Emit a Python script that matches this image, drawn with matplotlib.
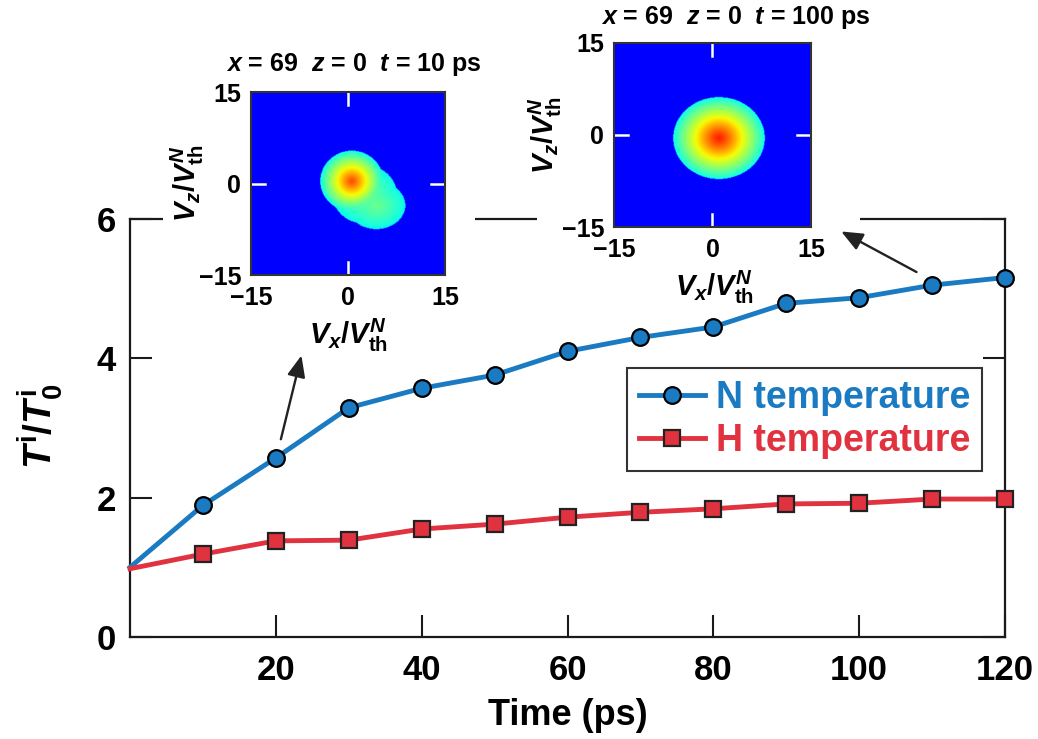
import numpy as np
import matplotlib
matplotlib.use("Agg")
import matplotlib.pyplot as plt
from matplotlib.patches import Rectangle

# ---------------- data ----------------
time_ps = [0, 10, 20, 30, 40, 50, 60, 70, 80, 90, 100, 110, 120]
n_temp = [1.00, 1.89, 2.57, 3.29, 3.57, 3.76, 4.10, 4.30, 4.45, 4.79, 4.87, 5.05, 5.16]
h_temp = [0.98, 1.19, 1.38, 1.39, 1.55, 1.62, 1.72, 1.79, 1.84, 1.91, 1.92, 1.98, 1.98]
x_ticks = [20, 40, 60, 80, 100, 120]
y_ticks = [0, 2, 4, 6]
inset_ticks = [-15, 0, 15]

# blob parameters
# (centre x, centre z, radius x, radius z, peak colour level)
blobs_t10 = [(0.6, 0.4, 4.9, 5.0, 0.83), (2.6, -1.8, 5.0, 4.8, 0.50), (4.4, -3.6, 4.5, 3.9, 0.48)]
blobs_t100 = [(1.0, -0.5, 7.0, 6.7, 0.88)]
titles = [r"$x$ = 69  $z$ = 0  $t$ = 10 ps", r"$x$ = 69  $z$ = 0  $t$ = 100 ps"]

# ---------------- style ----------------
plt.rcParams["font.family"] = ["Liberation Sans", "DejaVu Sans"]
plt.rcParams["font.weight"] = "bold"
plt.rcParams["mathtext.fontset"] = "custom"
plt.rcParams["mathtext.rm"] = "Liberation Sans:bold"
plt.rcParams["mathtext.bf"] = "Liberation Sans:bold"
plt.rcParams["mathtext.it"] = "Liberation Sans:italic:bold"

BLUE = "#1b7bc2"
RED = "#e0323f"
SPINE = "#1a1a1a"

W, H = 1038, 739
fig = plt.figure(figsize=(W / 100, H / 100), dpi=100)


def fr(x0, y0, x1, y1):
    """pixel box (top-left origin) -> figure fraction rect"""
    return [x0 / W, 1 - y1 / H, (x1 - x0) / W, (y1 - y0) / H]


ax = fig.add_axes(fr(130, 219, 1005, 637))
ax.plot(time_ps, n_temp, color=BLUE, lw=3.5, marker="o", ms=12, mfc=BLUE,
        mec="black", mew=1.6, markevery=slice(1, None), label="N temperature",
        zorder=3, clip_on=False)
ax.plot(time_ps, h_temp, color=RED, lw=3.5, marker="s", ms=11.5, mfc=RED,
        mec="#222222", mew=1.6, markevery=slice(1, None), label="H temperature",
        zorder=3, clip_on=False)
ax.set_xlim(0, 120)
ax.set_ylim(0, 6)
ax.set_xticks(x_ticks)
ax.set_yticks(y_ticks)
ax.tick_params(axis="both", direction="in", length=16, width=1.5, colors=SPINE,
               labelsize=25, labelcolor="black")
ax.tick_params(axis="y", right=True, pad=10)
ax.tick_params(axis="x", pad=12)
for s in ax.spines.values():
    s.set_linewidth(1.6)
    s.set_color(SPINE)
ax.set_xlabel("Time (ps)", fontsize=26, fontweight="bold")
ax.xaxis.set_label_coords(0.5, -0.187)
ax.xaxis.label.set_va("center")
ax.set_ylabel(r"$T^{\mathrm{i}}/T^{\mathrm{i}}_{0}$", fontsize=28)
ax.yaxis.set_label_coords(-0.103, 0.505)
ax.yaxis.label.set_va("center")

leg = ax.legend(loc="upper right", bbox_to_anchor=(0.974, 0.644),
                frameon=True, fancybox=False, framealpha=1, edgecolor="#333333",
                handlelength=1.75, handletextpad=0.3, borderpad=0.32,
                labelspacing=0.2, borderaxespad=0, labelcolor="linecolor",
                prop={"weight": "bold", "size": 27})
leg.get_frame().set_linewidth(1.5)

# arrows pointing to the insets
for tip, tail in [((23.6, 4.08), (20.6, 2.80)), ((97.2, 5.84), (108.2, 5.22))]:
    ax.annotate("", xy=tip, xytext=tail,
                arrowprops=dict(arrowstyle="-|>,head_length=1.3,head_width=0.55",
                                color="#222222", lw=1.7), annotation_clip=False)

# white patches where the inset panels interrupt the top frame
for box in [(163, 212, 475, 226), (537, 212, 860, 226)]:
    r = fr(*box)
    fig.patches.append(Rectangle(r[:2], r[2], r[3], transform=fig.transFigure,
                                 facecolor="white", edgecolor="none", zorder=1))

grid = np.linspace(-15, 15, 300)
GX, GZ = np.meshgrid(grid, grid)


def level_map(blobs):
    lev = np.full(GX.shape, -1.0)
    for cx, cz, rx, rz, peak in blobs:
        d = np.sqrt(((GX - cx) / rx) ** 2 + ((GZ - cz) / rz) ** 2)
        lev = np.maximum(lev, np.where(d <= 1, 0.36 + (peak - 0.36) * (1 - d ** 1.15), -1))
    return np.where(lev < 0, 0.115, lev)


def make_inset(box, blobs, title, title_xy, xlabel_xy, ylabel_xy):
    ia = fig.add_axes(fr(*box), zorder=3)
    ia.imshow(level_map(blobs), extent=[-15, 15, -15, 15], origin="lower",
              cmap="jet", vmin=0, vmax=1, interpolation="bilinear", aspect="auto")
    ia.set_xticks(inset_ticks)
    ia.set_yticks(inset_ticks)
    ia.set_xticklabels(["\u221215", "0", "15"])
    ia.set_yticklabels(["\u221215", "0", "15"])
    ia.tick_params(length=0, labelsize=18)
    ia.tick_params(axis="x", pad=8)
    ia.tick_params(axis="y", pad=7)
    for s in ia.spines.values():
        s.set_linewidth(1.5)
        s.set_color("#333333")
    # short white tick marks at zero on every side
    for frac in [(0, 0.07), (0.93, 1)]:
        ia.axvline(0, ymin=frac[0], ymax=frac[1], color="white", lw=1.8)
        ia.axhline(0, xmin=frac[0], xmax=frac[1], color="white", lw=1.8)
    ia.text(title_xy[0], title_xy[1], title, transform=ia.transAxes, ha="center",
            va="center", fontsize=18, fontweight="bold")
    ia.set_xlabel(r"$V_x/V^{N}_{\mathrm{th}}$", fontsize=21)
    ia.xaxis.set_label_coords(*xlabel_xy)
    ia.xaxis.label.set_va("center")
    ia.set_ylabel(r"$V_z/V^{N}_{\mathrm{th}}$", fontsize=21)
    ia.yaxis.set_label_coords(*ylabel_xy)
    ia.yaxis.label.set_va("center")
    return ia


make_inset((251, 92, 445, 275), blobs_t10, titles[0], (0.53, 1.15), (0.50, -0.33), (-0.33, 0.50))
make_inset((614, 43, 811, 227), blobs_t100, titles[1], (0.62, 1.14), (0.51, -0.33), (-0.35, 0.50))

fig.savefig("out.png", dpi=100, facecolor="white")
